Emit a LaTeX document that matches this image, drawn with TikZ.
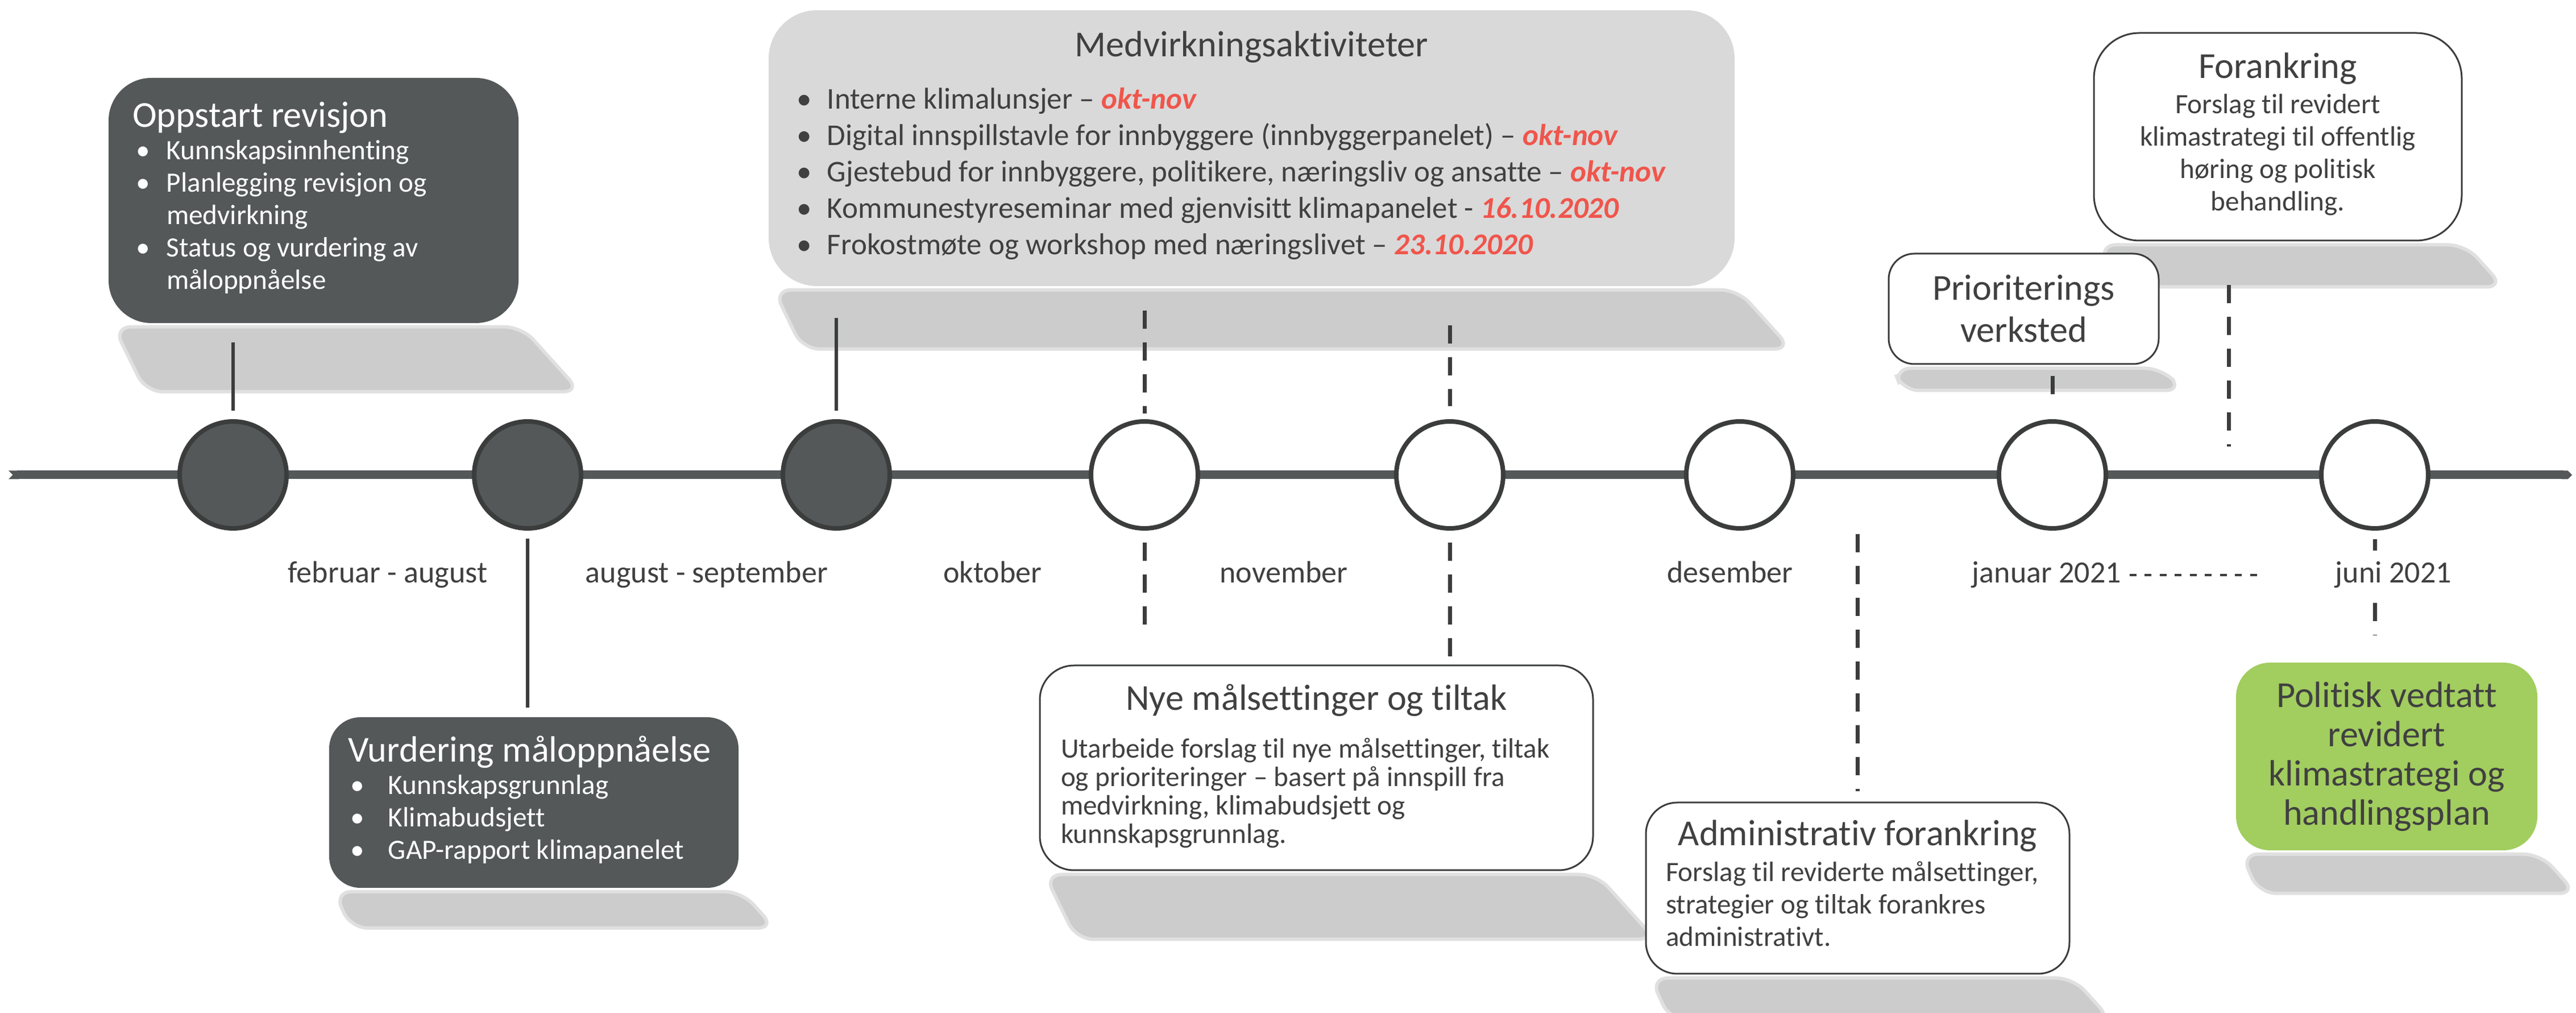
\documentclass[tikz,border=0pt]{standalone}
\usepackage{fontspec}
\setmainfont{Carlito}[Ligatures={NoCommon}]
\usetikzlibrary{arrows.meta,backgrounds}

\definecolor{slate}{RGB}{84,88,89}
\definecolor{rim}{RGB}{59,61,60}
\definecolor{ink}{RGB}{64,64,64}
\definecolor{paleg}{RGB}{217,217,217}
\definecolor{shadowgray}{RGB}{204,204,204}
\definecolor{leaf}{RGB}{162,205,95}
\definecolor{flame}{RGB}{240,85,75}

\newcommand{\titlefs}{\fontsize{18.3}{21}\selectfont}
\newcommand{\bodyfs}{\fontsize{14}{16.2}\selectfont}
\newcommand{\datefs}{\fontsize{15.4}{18}\selectfont}
\newcommand{\hot}[1]{\textcolor{flame}{\bfseries\itshape #1}}

\begin{document}
\begin{tikzpicture}[
    darkbox/.style={fill=slate, text=white, rounded corners=0.7cm, inner sep=0pt},
    lightbox/.style={fill=paleg, text=ink, rounded corners=0.85cm, inner sep=0pt},
    whitebox/.style={draw=rim, line width=0.03cm, fill=white, text=ink, rounded corners=0.6cm, inner sep=0pt},
    greenbox/.style={fill=leaf, text=ink, rounded corners=0.6cm, inner sep=0pt, align=center},
    milestone/.style={circle, draw=rim, line width=0.08cm, fill=white, minimum size=1.88cm, inner sep=0pt},
    done/.style={fill=slate},
    month/.style={text=ink, font=\datefs, anchor=base, inner sep=0.05cm},
    link/.style={draw=rim, line width=0.06cm},
    dashlink/.style={draw=rim, line width=0.07cm, dash pattern=on 0.32cm off 0.24cm},
    dotlink/.style={draw=rim, line width=0.04cm, dash pattern=on 0.12cm off 0.145cm},
    castshadow/.style={fill=shadowgray, draw=shadowgray!60, line width=0.06cm, rounded corners=0.3cm}
]
    \useasboundingbox (0,0) rectangle (45.31,17.81);

    % timeline
    \coordinate (tail) at (0.15,9.46);
    \coordinate (head) at (45.24,9.46);
    \draw [slate, line width=0.15cm, {Triangle Cap[reversed]}-{Triangle Cap}] (tail) -- (head);

    \node [milestone, done] (M1) at (4.10,9.46) {};
    \node [milestone, done] (M2) at (9.28,9.46) {};
    \node [milestone, done] (M3) at (14.71,9.46) {};
    \node [milestone] (M4) at (20.13,9.46) {};
    \node [milestone] (M5) at (25.50,9.46) {};
    \node [milestone] (M6) at (30.60,9.46) {};
    \node [milestone] (M7) at (36.10,9.46) {};
    \node [milestone] (M8) at (41.77,9.46) {};

    \node [month] (Feb) at (6.82,7.56) {februar - august};
    \node [month] (Aug) at (12.43,7.56) {august - september};
    \node [month] (Okt) at (17.46,7.56) {oktober};
    \node [month] (Nov) at (22.58,7.56) {november};
    \node [month] (Des) at (30.43,7.56) {desember};
    \node [month] (Jan) at (36.00,7.56) {januar 2021};

    % boxes
    \node [darkbox, minimum width=7.21cm, minimum height=4.31cm, rounded corners=0.75cm] (Oppstart) at (5.515,14.285) {\bodyfs
        \begin{tabular}{@{}p{0.6cm}@{}p{5.77cm}@{}}
        \multicolumn{2}{@{}l@{}}{\titlefs Oppstart revisjon}\\
        \hspace*{0.06cm}\textbullet & Kunnskapsinnhenting\\
        \hspace*{0.06cm}\textbullet & Planlegging revisjon og\\
         & medvirkning\\
        \hspace*{0.06cm}\textbullet & Status og vurdering av\\
         & måloppnåelse
        \end{tabular}};
    \node [lightbox, minimum width=16.99cm, minimum height=4.85cm] (Medvirkning) at (22.015,15.205) {\fontsize{15.1}{18.2}\selectfont
        \begin{tabular}{@{}p{0.54cm}@{}p{15.47cm}@{}}
        \multicolumn{2}{@{}c@{}}{\titlefs Medvirkningsaktiviteter}\\[8pt]
        \textbullet & Interne klimalunsjer – \hot{okt-nov}\\
        \textbullet & Digital innspillstavle for innbyggere (innbyggerpanelet) – \hot{okt-nov}\\
        \textbullet & Gjestebud for innbyggere, politikere, næringsliv og ansatte – \hot{okt-nov}\\
        \textbullet & Kommunestyreseminar med gjenvisitt klimapanelet - \hot{16.10.2020}\\
        \textbullet & Frokostmøte og workshop med næringslivet – \hot{23.10.2020}
        \end{tabular}};
    \node [darkbox, minimum width=7.20cm, minimum height=3.00cm, rounded corners=0.55cm] (Vurdering) at (9.39,3.70) {\bodyfs
        \begin{tabular}{@{}p{0.71cm}@{}p{5.83cm}@{}}
        \multicolumn{2}{@{}l@{}}{\titlefs Vurdering måloppnåelse}\\
        \hspace*{0.04cm}\textbullet & Kunnskapsgrunnlag\\
        \hspace*{0.04cm}\textbullet & Klimabudsjett\\
        \hspace*{0.04cm}\textbullet & GAP-rapport klimapanelet
        \end{tabular}};
    \node [whitebox, minimum width=9.73cm, minimum height=3.60cm] (NyeMaal) at (23.155,4.31) {\fontsize{14}{14.2}\selectfont
        \begin{tabular}{@{}p{8.99cm}@{}}
        \multicolumn{1}{@{}c@{}}{\titlefs Nye målsettinger og tiltak}\\[9.7pt]
        Utarbeide forslag til nye målsettinger, tiltak\\
        og prioriteringer – basert på innspill fra\\
        medvirkning, klimabudsjett og\\
        kunnskapsgrunnlag.
        \end{tabular}};
    \node [whitebox, minimum width=7.45cm, minimum height=3.01cm, rounded corners=0.55cm] (AdminForank) at (32.675,2.195) {\bodyfs
        \begin{tabular}{@{}p{6.75cm}@{}}
        \multicolumn{1}{@{}c@{}}{\titlefs Administrativ forankring}\\[1.7pt]
        Forslag til reviderte målsettinger,\\
        strategier og tiltak forankres\\
        administrativt.
        \end{tabular}};
    \node [whitebox, minimum width=4.75cm, minimum height=1.94cm, rounded corners=0.45cm, align=center, font=\titlefs] (Prioritering) at (35.595,12.38) {Prioriterings\\verksted};
    \node [whitebox, minimum width=6.47cm, minimum height=3.65cm, rounded corners=0.8cm] (Forankring) at (40.065,15.405) {\bodyfs
        \begin{tabular}{@{}c@{}}
        {\titlefs Forankring}\\[1.4pt]
        Forslag til revidert\\
        klimastrategi til offentlig\\
        høring og politisk\\
        behandling.
        \end{tabular}};
    \node [greenbox, minimum width=5.30cm, minimum height=3.30cm, font=\fontsize{18.3}{19.6}\selectfont] (Vedtatt) at (41.98,4.51) {Politisk vedtatt\\revidert\\klimastrategi og\\handlingsplan};

    % shadows
    \begin{pgfonlayer}{background}
        \foreach \bx/\dep in {Oppstart/1.2, Medvirkning/1.1, Vurdering/0.7, NyeMaal/1.2, AdminForank/0.8, Prioritering/0.45, Forankring/0.8, Vedtatt/0.75}
            \filldraw [castshadow] ([shift={(0.1,-0.06)}]\bx.south west) -- ([shift={(0.05,-0.06)}]\bx.south east) -- ([shift={(0.9*\dep,-\dep)}]\bx.south east) -- ([shift={(0.55*\dep,-\dep)}]\bx.south west) -- cycle;
    \end{pgfonlayer}

    % connectors
    \path (Oppstart.south -| M1) edge [link, shorten <=0.33cm, shorten >=0.15cm] (M1.north);
    \path (M2.south) edge [link, shorten <=0.14cm, shorten >=0.16cm] (Vurdering.north -| M2);
    \path (Medvirkning.south -| M3) edge [link, shorten <=0.55cm, shorten >=0.15cm] (M3.north);
    \path (Medvirkning.south -| M4) edge [dashlink, shorten <=0.42cm, shorten >=0.10cm] (M4.north);
    \path (Medvirkning.south -| M5) edge [dashlink, shorten <=0.68cm, shorten >=0.23cm] (M5.north);
    \path (M4.south) edge [dashlink, shorten <=0.21cm, shorten >=0.66cm] (NyeMaal.north -| M4);
    \path (M5.south) edge [dashlink, shorten <=0.21cm, shorten >=0.14cm] (NyeMaal.north -| M5);
    \path (AdminForank.north |- tail) edge [dashlink, shorten <=1.04cm, shorten >=0.18cm] (AdminForank.north);
    \path (Prioritering.south -| M7) edge [dashlink, shorten <=0.20cm, shorten >=0.44cm] (M7.north);
    \coordinate (ForankPin) at (39.20,9.46);
    \path (Forankring.south -| ForankPin) edge [dashlink, shorten <=0.77cm, shorten >=0.50cm] (ForankPin);
    \path (M8.south) edge [dashlink, shorten <=0.15cm, shorten >=0.48cm] (Vedtatt.north -| M8);

    \node [month, fill=white, inner ysep=0.2cm] (Jun) at (42.10,7.56) {juni 2021};
    \path (Jan.east) edge [dotlink, shorten <=0.09cm, shorten >=1.27cm] (Jun.west);
\end{tikzpicture}
\end{document}
